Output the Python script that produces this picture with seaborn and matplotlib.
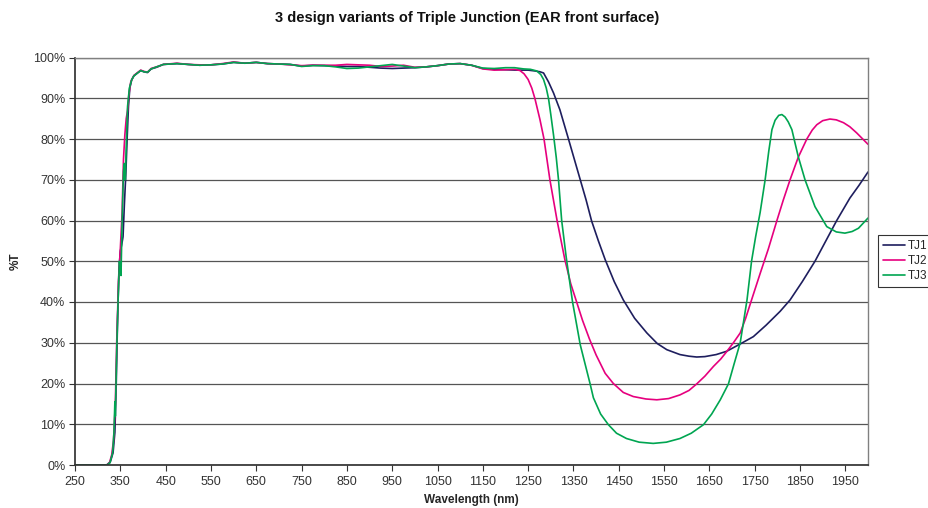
import numpy as np
import pandas as pd
import matplotlib
matplotlib.use("Agg")
import matplotlib.pyplot as plt
import seaborn as sns

# ---- data ----
series_names = ["TJ1", "TJ2", "TJ3"]

tj1_wl = [250, 320, 328, 334, 338, 341, 344, 347, 350, 353, 356, 359, 362, 365, 368, 371, 375, 380, 388, 395,
          402, 410, 418, 430, 445, 475, 500, 525, 550, 575, 600, 625, 650, 675, 700, 725, 750, 775, 800, 825,
          850, 875, 900, 925, 950, 975, 1000, 1025, 1050, 1075, 1100, 1125, 1150, 1175, 1200, 1225, 1250, 1265,
          1276, 1284, 1295, 1306, 1320, 1339, 1352, 1365, 1378, 1390, 1405, 1420, 1440, 1460, 1485, 1512, 1535,
          1556, 1585, 1605, 1622, 1640, 1665, 1688, 1718, 1747, 1775, 1806, 1828, 1855, 1883, 1907, 1931, 1960,
          1980, 2000]
tj1_t = [0, 0, 0.8, 3, 8, 20, 36, 48, 52.5, 54, 56, 64, 71, 80, 88, 92.5, 94.5, 95.5, 96.2, 96.8,
         96.5, 96.3, 97.2, 97.6, 98.3, 98.5, 98.3, 98.1, 98.2, 98.4, 98.8, 98.6, 98.8, 98.5, 98.4, 98.3, 97.9, 98.1, 98.0, 97.9,
         97.8, 97.8, 97.6, 97.4, 97.3, 97.4, 97.5, 97.7, 98.0, 98.4, 98.5, 98.1, 97.3, 97.1, 97.0, 96.9, 96.9, 96.7,
         96.5, 96.2, 94.0, 91.3, 87.2, 80.0, 75.0, 70.0, 65.0, 59.9, 55.0, 50.4, 45.0, 40.5, 36.0, 32.4, 29.8,
         28.3, 27.1, 26.7, 26.5, 26.6, 27.1, 27.9, 29.7, 31.5, 34.3, 37.7, 40.5, 45.0, 50.0, 55.0, 60.0, 65.5,
         68.6, 71.9]

tj2_wl = [250, 320, 326, 331, 335, 339, 342, 346, 350, 354, 357, 360, 363, 366, 369, 373, 380, 388, 395,
          402, 410, 418, 430, 445, 475, 500, 525, 550, 575, 600, 625, 650, 675, 700, 725, 750, 775, 800, 825,
          850, 875, 900, 925, 950, 975, 1000, 1025, 1050, 1075, 1100, 1125, 1150, 1175, 1200, 1220, 1232, 1241,
          1250, 1258, 1265, 1276, 1285, 1298, 1314, 1331, 1344, 1357, 1370, 1385, 1400, 1420, 1438, 1460, 1482,
          1510, 1534, 1560, 1585, 1605, 1622, 1640, 1659, 1675, 1688, 1703, 1718, 1730, 1743, 1762, 1780, 1799,
          1813, 1828, 1846, 1865, 1877, 1887, 1900, 1916, 1930, 1946, 1960, 1975, 2000]
tj2_t = [0, 0, 0.5, 2.5, 6, 15, 30, 45, 53, 62, 75, 81, 85, 87, 91, 94, 95.6, 96.3, 96.9,
         96.6, 96.4, 97.3, 97.7, 98.3, 98.6, 98.3, 98.2, 98.2, 98.5, 98.9, 98.6, 98.8, 98.5, 98.4, 98.2, 98.0, 98.1, 98.1, 98.1,
         98.3, 98.2, 98.1, 97.8, 97.9, 98.1, 97.6, 97.7, 98.0, 98.4, 98.5, 98.1, 97.2, 96.9, 97.0, 97.1, 96.8, 96.0,
         94.6, 92.5, 89.9, 84.8, 80.0, 70.0, 59.9, 50.4, 44.5, 40.0, 35.5, 31.0, 27.0, 22.5, 20.0, 17.8, 16.8,
         16.2, 16.0, 16.3, 17.2, 18.3, 19.9, 21.8, 24.2, 26.0, 27.8, 30.0, 32.4, 36.0, 40.5, 47.0, 53.0, 60.0,
         65.0, 70.0, 75.5, 80.0, 82.2, 83.5, 84.5, 84.9, 84.7, 84.0, 83.0, 81.5, 78.7]

tj3_wl = [250, 320, 327, 333, 336, 338, 339, 342, 345, 348, 350, 351.5, 354, 357, 359, 361, 363, 366, 370, 375,
          380, 388, 395, 402, 410, 418, 430, 445, 475, 500, 525, 550, 575, 600, 625, 650, 675, 700, 725, 750,
          775, 800, 825, 850, 875, 900, 925, 950, 975, 1000, 1025, 1050, 1075, 1100, 1125, 1150, 1175, 1200,
          1220, 1240, 1255, 1269, 1278, 1284, 1290, 1295, 1300, 1306, 1312, 1317, 1324, 1334, 1348, 1365, 1387,
          1394, 1410, 1427, 1445, 1467, 1495, 1526, 1555, 1585, 1610, 1637, 1655, 1674, 1692, 1705, 1718, 1733,
          1743, 1752, 1762, 1773, 1781, 1788, 1795, 1803, 1810, 1817, 1824, 1832, 1846, 1861, 1883, 1909, 1930,
          1949, 1965, 1979, 2000]
tj3_t = [0, 0, 0.5, 3, 8, 15.5, 12, 28, 40, 50, 48, 46.5, 60, 72, 74, 70, 78, 88, 92.5, 94.5,
         95.5, 96.2, 96.8, 96.5, 96.4, 97.2, 97.7, 98.3, 98.5, 98.3, 98.1, 98.2, 98.4, 98.8, 98.6, 98.8, 98.5, 98.4, 98.3, 97.8,
         98.0, 98.0, 97.7, 97.3, 97.4, 97.7, 98.0, 98.3, 97.9, 97.5, 97.7, 98.0, 98.4, 98.5, 98.1, 97.4, 97.3, 97.5,
         97.5, 97.2, 97.1, 96.7, 95.8, 94.6, 92.5, 89.9, 86.0, 81.0, 75.5, 70.0, 60.0, 51.0, 40.0, 29.5, 19.8,
         16.5, 12.5, 9.9, 7.8, 6.5, 5.6, 5.3, 5.6, 6.5, 7.8, 9.9, 12.5, 16.0, 19.9, 25.0, 30.0, 40.5,
         50.0, 56.0, 62.0, 70.0, 77.0, 82.3, 84.6, 85.8, 86.0, 85.4, 84.2, 82.3, 75.7, 70.0, 63.4, 58.5, 57.2,
         56.9, 57.3, 58.1, 60.6]

colors = ["#1e1e5e", "#e6007e", "#00a551"]
x_ticks = list(range(250, 2000, 100))
y_ticks = list(range(0, 101, 10))

# ---- build long-form table ----
frames = []
for name, wl, t in zip(series_names, [tj1_wl, tj2_wl, tj3_wl], [tj1_t, tj2_t, tj3_t]):
    frames.append(pd.DataFrame({"Wavelength": wl, "T": t, "Series": name}))
df = pd.concat(frames, ignore_index=True)

sns.set_theme(style="white")
plt.rcParams["font.family"] = ["Liberation Sans", "DejaVu Sans"]

fig = plt.figure(figsize=(9.29, 5.08), dpi=100)
ax = fig.add_axes([75 / 929, 1 - 465 / 508, (868 - 75) / 929, (465 - 57.5) / 508])

sns.lineplot(data=df, x="Wavelength", y="T", hue="Series", palette=colors,
             hue_order=series_names, sort=False, estimator=None, linewidth=1.2, ax=ax, legend=True)

ax.set_xlim(250, 2000)
ax.set_ylim(0, 100)
ax.set_xticks(x_ticks)
ax.set_xticklabels([str(v) for v in x_ticks])
ax.set_yticks(y_ticks)
ax.set_yticklabels([f"{v}%" for v in y_ticks])
ax.yaxis.grid(True, color="#555555", linewidth=0.9)
ax.xaxis.grid(False)
ax.set_axisbelow(True)
for side in ["top", "right"]:
    ax.spines[side].set_color("#808080")
    ax.spines[side].set_linewidth(1.0)
ax.spines["left"].set_color("#333333")
ax.spines["bottom"].set_color("#333333")
ax.tick_params(axis="both", which="major", direction="out", length=4, width=0.8,
               color="#333333", labelsize=9, labelcolor="#333333", bottom=True, left=True)
ax.tick_params(axis="x", pad=4)
ax.tick_params(axis="y", pad=3)

ax.set_xlabel("Wavelength (nm)", fontsize=8.5, fontweight="bold", labelpad=4)
ax.set_ylabel("%T", fontsize=8.5, fontweight="bold", labelpad=8)
fig.text(0.503, 1 - 18 / 508, "3 design variants of Triple Junction (EAR front surface)",
         ha="center", va="center", fontsize=10.5, fontweight="bold", color="#111111")

handles, labels = ax.get_legend_handles_labels()
ax.legend(handles, labels, loc="center left", bbox_to_anchor=(878 / 929, 1 - 261 / 508),
          bbox_transform=fig.transFigure, frameon=True, fancybox=False, edgecolor="#000000",
          fontsize=8.5, handlelength=1.8, handletextpad=0.3, borderpad=0.45, labelspacing=0.25,
          borderaxespad=0)
leg = ax.get_legend()
leg.get_frame().set_linewidth(0.8)

fig.savefig("out.png", dpi=100)
